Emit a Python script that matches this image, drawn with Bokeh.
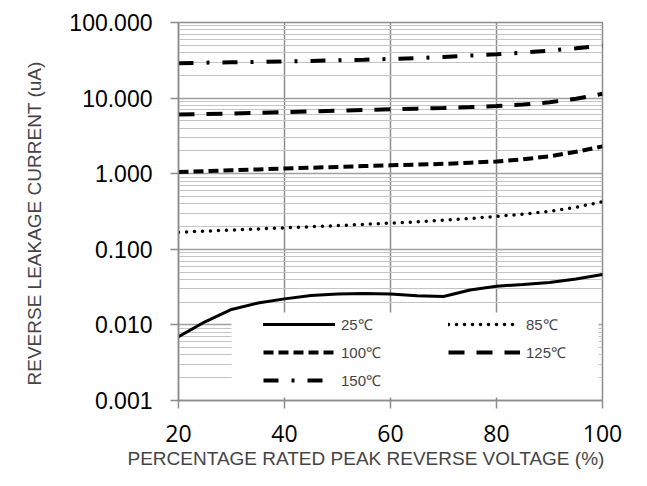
from bokeh.plotting import figure
from bokeh.models import FixedTicker, PrintfTickFormatter, Legend, LegendItem, Title, BoxAnnotation
from bokeh.embed import file_html
from bokeh.resources import INLINE

# ---- data ----
x_pct = [20, 25, 30, 35, 40, 45, 50, 55, 60, 65, 70, 75, 80, 85, 90, 95, 100]
i_25 = [0.0070, 0.0110, 0.0160, 0.0195, 0.0221, 0.0245, 0.0256, 0.0261, 0.0257,
        0.0243, 0.0237, 0.0290, 0.0325, 0.0343, 0.0365, 0.0405, 0.0465]
i_85 = [0.168, 0.174, 0.180, 0.186, 0.192, 0.199, 0.206, 0.214, 0.222,
        0.231, 0.242, 0.256, 0.272, 0.292, 0.318, 0.360, 0.425]
i_100 = [1.05, 1.08, 1.11, 1.14, 1.17, 1.20, 1.23, 1.26, 1.29,
         1.32, 1.35, 1.40, 1.45, 1.55, 1.70, 1.95, 2.30]
i_125 = [6.05, 6.15, 6.25, 6.40, 6.50, 6.65, 6.80, 6.95, 7.10,
         7.25, 7.40, 7.60, 7.85, 8.20, 8.80, 9.80, 11.4]
i_150 = [29.0, 29.4, 29.8, 30.2, 30.6, 31.0, 31.6, 32.2, 33.0,
         33.8, 35.0, 36.5, 38.0, 40.0, 42.5, 45.5, 49.5]
series_labels = ["25℃", "85℃", "100℃", "125℃", "150℃"]
x_ticks = [20, 40, 60, 80, 100]
y_ticks = [0.001, 0.01, 0.1, 1, 10, 100]
x_title = "PERCENTAGE RATED PEAK REVERSE VOLTAGE (%)"
y_title = "REVERSE LEAKAGE CURRENT (uA)"

# minor log ticks 2..9 per decade
y_minor = [m * d for d in y_ticks[:-1] for m in range(2, 10)]

p = figure(width=631, height=470, y_axis_type="log",
           x_range=(20, 100), y_range=(0.001, 100),
           output_backend="svg", toolbar_location=None,
           min_border_left=178, min_border_right=29,
           min_border_top=22, min_border_bottom=70,
           background_fill_color="white", border_fill_color="white")

GRID = "#8c8c8c"
p.outline_line_color = GRID
p.outline_line_width = 1.5

p.xaxis.ticker = FixedTicker(ticks=x_ticks)
p.yaxis.ticker = FixedTicker(ticks=y_ticks, minor_ticks=y_minor)
p.yaxis.formatter = PrintfTickFormatter(format="%.3f")

for ax in (p.xaxis, p.yaxis):
    ax.axis_line_color = GRID
    ax.axis_line_width = 1.5
    ax.major_tick_line_color = GRID
    ax.major_tick_line_width = 1.5
    ax.major_tick_out = 8
    ax.major_tick_in = 0
    ax.minor_tick_line_color = None
    ax.major_label_text_color = "black"

p.yaxis.major_label_text_font = "Liberation Sans"
p.yaxis.major_label_text_font_size = "23px"
p.yaxis.major_label_standoff = 18
p.xaxis.major_label_text_font = "Open Sans"
p.xaxis.major_label_text_font_size = "23px"
p.xaxis.major_label_standoff = 16

p.xgrid.grid_line_color = GRID
p.xgrid.grid_line_width = 1.5
p.ygrid.grid_line_color = "#a0a0a0"
p.ygrid.grid_line_width = 1.5
p.ygrid.minor_grid_line_color = "#c4c4c4"
p.ygrid.minor_grid_line_width = 1

# legend background (Excel legend area, white fill), offsets relative to the frame
p.add_layout(BoxAnnotation(left=53, right=420, bottom=3, top=88,
                           left_units="screen", right_units="screen",
                           top_units="screen", bottom_units="screen",
                           fill_color="white", fill_alpha=1, line_color=None))

styles = [
    dict(line_width=3, line_dash="solid", line_cap="round"),
    dict(line_width=3.5, line_dash="0 8", line_cap="round"),
    dict(line_width=4, line_dash="10 5", line_cap="butt"),
    dict(line_width=4, line_dash="16 12", line_cap="butt"),
    dict(line_width=4, line_dash="15 13 3 13", line_cap="butt"),
]
series = [i_25, i_85, i_100, i_125, i_150]
items = []
for lab, ys, st in zip(series_labels, series, styles):
    r = p.line(x_pct, ys, line_color="black", **st)
    items.append(LegendItem(label=lab, renderers=[r]))

legend = Legend(items=items, location=(85, 10), orientation="horizontal", ncols=2,
                glyph_width=72, glyph_height=20, label_height=20,
                label_width=99, label_standoff=6, spacing=8, padding=4, margin=0,
                label_text_font="Liberation Sans", label_text_font_size="15px",
                background_fill_alpha=0, border_line_color=None)
p.add_layout(legend, "center")

p.add_layout(Title(text=y_title, align="left", offset=15, text_font="Liberation Sans",
                   text_font_size="19px", text_font_style="normal", standoff=43), "left")
p.add_layout(Title(text=x_title, align="left", offset=-51, text_font="Liberation Sans",
                   text_font_size="19px", text_font_style="normal", standoff=2), "below")

open("out.html", "w").write(file_html(p, INLINE))
